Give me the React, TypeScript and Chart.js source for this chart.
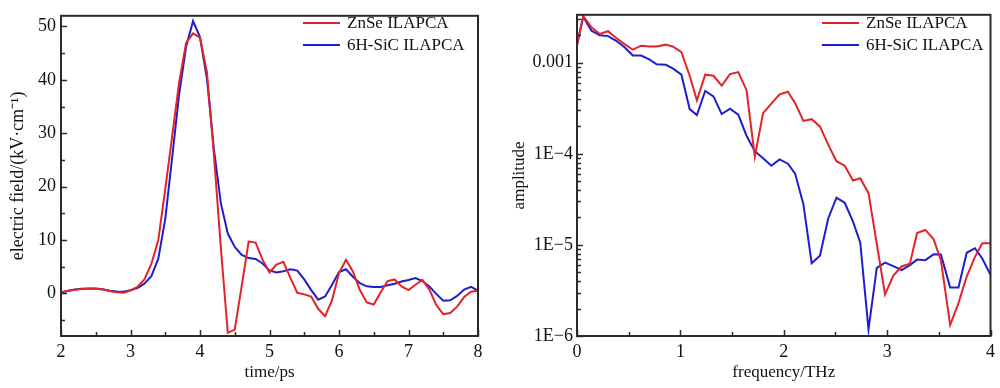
import React, { useEffect, useRef } from "react";
import { Chart, registerables } from "chart.js";

Chart.register(...registerables);

// ---------- Left panel: time-domain field ----------
const timePs = [
  2.0, 2.1, 2.2, 2.3, 2.4, 2.5, 2.6, 2.7, 2.8, 2.9,
  3.0, 3.1, 3.2, 3.3, 3.4, 3.5, 3.6, 3.7, 3.8, 3.9,
  4.0, 4.1, 4.2, 4.3, 4.4, 4.5, 4.6, 4.7, 4.8, 4.9,
  5.0, 5.1, 5.2, 5.3, 5.4, 5.5, 5.6, 5.7, 5.8, 5.9,
  6.0, 6.1, 6.2, 6.3, 6.4, 6.5, 6.6, 6.7, 6.8, 6.9,
  7.0, 7.1, 7.2, 7.3, 7.4, 7.5, 7.6, 7.7, 7.8, 7.9, 8.0,
];
const fieldZnSe = [
  0.2, 0.45, 0.65, 0.8, 0.85, 0.85, 0.7, 0.45, 0.2, 0.1,
  0.5, 1.2, 2.6, 5.5, 10.0, 19.5, 29.5, 39.5, 46.9, 48.7,
  47.9, 41.4, 26.0, 8.5, -7.4, -6.8, 1.4, 9.7, 9.5, 6.3,
  3.9, 5.4, 5.9, 2.9, 0.1, -0.2, -0.6, -2.9, -4.3, -1.3,
  3.8, 6.3, 4.1, 0.6, -1.7, -2.1, 0.2, 2.3, 2.6, 1.3,
  0.6, 1.6, 2.5, 0.7, -2.2, -3.9, -3.7, -2.5, -0.7, 0.3, 0.5,
];
const fieldSiC = [
  0.2, 0.5, 0.7, 0.85, 0.9, 0.9, 0.75, 0.5, 0.35, 0.3,
  0.6, 1.0, 1.8, 3.2, 6.5, 13.9, 25.5, 37.3, 46.2, 51.0,
  48.0, 40.2, 27.0, 16.9, 11.2, 8.7, 7.2, 6.6, 6.45, 5.6,
  4.3, 3.9, 4.15, 4.5, 4.25, 2.6, 0.6, -1.2, -0.6, 1.6,
  4.0, 4.5, 3.1, 1.9, 1.3, 1.2, 1.2, 1.5, 1.8, 2.2,
  2.5, 2.85, 2.3, 1.3, -0.1, -1.4, -1.3, -0.5, 0.7, 1.2, 0.5,
];
const timeTicks = [2, 3, 4, 5, 6, 7, 8];
const timeMinorTicks = [2.5, 3.5, 4.5, 5.5, 6.5, 7.5];
const fieldTicks = [0, 10, 20, 30, 40, 50];
const fieldMinorTicks = [-5, 5, 15, 25, 35, 45];

// ---------- Right panel: spectrum ----------
const freqTHz = [
  0.0, 0.06, 0.14, 0.22, 0.30, 0.38, 0.46, 0.54, 0.62, 0.70,
  0.77, 0.86, 0.93, 1.01, 1.09, 1.16, 1.24, 1.32, 1.40, 1.48,
  1.56, 1.64, 1.72, 1.80, 1.88, 1.96, 2.04, 2.11, 2.19, 2.27,
  2.35, 2.43, 2.51, 2.59, 2.67, 2.74, 2.82, 2.90, 2.98, 3.06,
  3.14, 3.22, 3.29, 3.37, 3.45, 3.52, 3.61, 3.69, 3.77, 3.85,
  3.92, 4.00,
];
const ampZnSe = [
  1.57e-3, 3.25e-3, 2.45e-3, 2.07e-3, 2.22e-3, 1.87e-3, 1.6e-3, 1.39e-3, 1.54e-3, 1.51e-3,
  1.51e-3, 1.58e-3, 1.5e-3, 1.31e-3, 7.2e-4, 3.86e-4, 7.4e-4, 7.2e-4, 5.6e-4, 7.5e-4,
  7.9e-4, 5.0e-4, 9.3e-5, 2.8e-4, 3.55e-4, 4.5e-4, 4.8e-4, 3.6e-4, 2.3e-4, 2.4e-4,
  2.0e-4, 1.26e-4, 8.3e-5, 7.4e-5, 5.1e-5, 5.4e-5, 3.7e-5, null, 2.85e-6, 4.6e-6,
  5.8e-6, 6.2e-6, 1.35e-5, 1.46e-5, 1.15e-5, 6.8e-6, 1.32e-6, 2.3e-6, 4.5e-6, 7.4e-6,
  1.04e-5, 1.04e-5,
];
const ampSiC = [
  1.57e-3, 3.2e-3, 2.25e-3, 2.0e-3, 1.96e-3, 1.74e-3, 1.48e-3, 1.2e-3, 1.2e-3, 1.09e-3,
  9.6e-4, 9.5e-4, 8.6e-4, 7.4e-4, 3.1e-4, 2.66e-4, 4.9e-4, 4.27e-4, 2.73e-4, 3.13e-4,
  2.69e-4, 1.58e-4, 1.07e-4, 8.95e-5, 7.4e-5, 8.7e-5, 7.8e-5, 6.07e-5, 2.8e-5, 6.3e-6,
  7.6e-6, 1.95e-5, 3.3e-5, 2.9e-5, 1.8e-5, 1.06e-5, 1.18e-6, 5.6e-6, 6.4e-6, 5.85e-6,
  5.3e-6, 6.0e-6, 6.9e-6, 6.8e-6, 7.9e-6, 7.85e-6, 3.4e-6, 3.4e-6, 8.2e-6, 9.2e-6,
  7.1e-6, 4.7e-6,
];
const freqTicks = [0, 1, 2, 3, 4];
const freqMinorTicks = [0.5, 1.5, 2.5, 3.5];
const ampTicks = [1e-6, 1e-5, 1e-4, 1e-3];
const ampTickLabels = ["1E\u22126", "1E\u22125", "1E\u22124", "0.001"];
const ampMinorTicks = [
  2e-6, 3e-6, 4e-6, 5e-6, 6e-6, 7e-6, 8e-6, 9e-6,
  2e-5, 3e-5, 4e-5, 5e-5, 6e-5, 7e-5, 8e-5, 9e-5,
  2e-4, 3e-4, 4e-4, 5e-4, 6e-4, 7e-4, 8e-4, 9e-4,
  2e-3, 3e-3,
];

const seriesNames = ["ZnSe ILAPCA", "6H-SiC ILAPCA"];
const seriesColors = ["#e3232a", "#1e1ecc"];

const FONT = "'Liberation Serif', 'Times New Roman', serif";
const INK = "#111";
const FRAME = "#2a2a2a";

function makeDecor(cfg: {
  xMajor: number[]; xMinor: number[]; yMajor: number[]; yMinor: number[];
  legendX: number; legendY: number[];
}) {
  return {
    id: "decor",
    afterDatasetsDraw(chart: any) {
      const { ctx, chartArea: a, scales } = chart;
      const xs = scales.x, ys = scales.y;
      ctx.save();
      ctx.strokeStyle = FRAME;
      ctx.lineWidth = 1.5;
      const tx = (vals: number[], len: number) => {
        vals.forEach((v) => {
          const p = Math.round(xs.getPixelForValue(v)) + 0.5;
          ctx.beginPath(); ctx.moveTo(p, a.bottom); ctx.lineTo(p, a.bottom - len); ctx.stroke();
        });
      };
      const ty = (vals: number[], len: number) => {
        vals.forEach((v) => {
          const p = Math.round(ys.getPixelForValue(v)) + 0.5;
          ctx.beginPath(); ctx.moveTo(a.left, p); ctx.lineTo(a.left + len, p); ctx.stroke();
        });
      };
      tx(cfg.xMajor, 6); tx(cfg.xMinor, 4);
      ty(cfg.yMajor, 6); ty(cfg.yMinor, 4);
      ctx.lineWidth = 2;
      ctx.strokeRect(a.left, a.top, a.right - a.left, a.bottom - a.top);
      // legend
      ctx.font = `17px ${FONT}`;
      ctx.textBaseline = "middle";
      ctx.textAlign = "left";
      chart.data.datasets.forEach((ds: any, i: number) => {
        const y = cfg.legendY[i];
        ctx.strokeStyle = ds.borderColor;
        ctx.lineWidth = 2;
        ctx.beginPath(); ctx.moveTo(cfg.legendX, y); ctx.lineTo(cfg.legendX + 37, y); ctx.stroke();
        ctx.fillStyle = INK;
        ctx.fillText(ds.label, cfg.legendX + 44, y + 1);
      });
      ctx.restore();
    },
  };
}

function baseScale(extra: any) {
  return {
    grid: { display: false, drawTicks: false },
    border: { display: false },
    ...extra,
  };
}

function TimeChart() {
  const ref = useRef<HTMLCanvasElement>(null);
  useEffect(() => {
    const chart = new Chart(ref.current!, {
      type: "line",
      data: {
        datasets: [
          { label: seriesNames[0], data: timePs.map((t, i) => ({ x: t, y: fieldZnSe[i] })), borderColor: seriesColors[0], borderWidth: 2, pointRadius: 0, tension: 0, fill: false },
          { label: seriesNames[1], data: timePs.map((t, i) => ({ x: t, y: fieldSiC[i] })), borderColor: seriesColors[1], borderWidth: 2, pointRadius: 0, tension: 0, fill: false },
        ],
      },
      options: {
        animation: false,
        responsive: false,
        events: [],
        layout: { padding: { left: 0, top: 2, right: 22, bottom: 0 } },
        plugins: { legend: { display: false }, tooltip: { enabled: false } },
        scales: {
          x: baseScale({
            type: "linear", min: 2, max: 8,
            afterBuildTicks: (s: any) => { s.ticks = timeTicks.map((v) => ({ value: v })); },
            afterFit: (s: any) => { s.height = 52; },
            ticks: { font: { family: FONT, size: 18 }, color: INK, padding: 5, maxRotation: 0, autoSkip: false, callback: (v: any) => String(v) },
            title: { display: true, text: "time/ps", font: { family: FONT, size: 17 }, color: INK, padding: { top: 0, bottom: 5 } },
          }),
          y: baseScale({
            type: "linear", min: -8, max: 52,
            afterBuildTicks: (s: any) => { s.ticks = fieldTicks.map((v) => ({ value: v })); },
            afterFit: (s: any) => { s.width = 61; },
            ticks: { font: { family: FONT, size: 18 }, color: INK, padding: 5, autoSkip: false, callback: (v: any) => String(v) },
            title: { display: true, text: "electric field/(kV\u00B7cm\u207B\u00B9)", font: { family: FONT, size: 18 }, color: INK, padding: { top: 7, bottom: 0 } },
          }),
        },
      },
      plugins: [makeDecor({ xMajor: timeTicks, xMinor: timeMinorTicks, yMajor: fieldTicks, yMinor: fieldMinorTicks, legendX: 303, legendY: [23, 45] })],
    } as any);
    return () => chart.destroy();
  }, []);
  return <canvas ref={ref} width={500} height={388} style={{ position: "absolute", left: 0, top: 0, width: 500, height: 388 }} />;
}

function SpectrumChart() {
  const ref = useRef<HTMLCanvasElement>(null);
  useEffect(() => {
    const chart = new Chart(ref.current!, {
      type: "line",
      data: {
        datasets: [
          { label: seriesNames[0], data: freqTHz.map((f, i) => ({ x: f, y: ampZnSe[i] })), borderColor: seriesColors[0], borderWidth: 2, pointRadius: 0, tension: 0, fill: false, spanGaps: true },
          { label: seriesNames[1], data: freqTHz.map((f, i) => ({ x: f, y: ampSiC[i] })), borderColor: seriesColors[1], borderWidth: 2, pointRadius: 0, tension: 0, fill: false, spanGaps: true },
        ],
      },
      options: {
        animation: false,
        responsive: false,
        events: [],
        layout: { padding: { left: 0, top: 2, right: 7, bottom: 0 } },
        plugins: { legend: { display: false }, tooltip: { enabled: false } },
        scales: {
          x: baseScale({
            type: "linear", min: 0, max: 4,
            afterBuildTicks: (s: any) => { s.ticks = freqTicks.map((v) => ({ value: v })); },
            afterFit: (s: any) => { s.height = 52; },
            ticks: { font: { family: FONT, size: 18 }, color: INK, padding: 5, maxRotation: 0, autoSkip: false, callback: (v: any) => String(v) },
            title: { display: true, text: "frequency/THz", font: { family: FONT, size: 17 }, color: INK, padding: { top: 0, bottom: 5 } },
          }),
          y: baseScale({
            type: "logarithmic", min: 1e-6, max: 0.00336,
            afterBuildTicks: (s: any) => { s.ticks = ampTicks.map((v) => ({ value: v })); },
            afterFit: (s: any) => { s.width = 77; },
            ticks: { font: { family: FONT, size: 18 }, color: INK, padding: 4, autoSkip: false, callback: (v: any, i: number) => ampTickLabels[i] },
            title: { display: true, text: "amplitude", font: { family: FONT, size: 17 }, color: INK, padding: { top: 9, bottom: 0 } },
          }),
        },
      },
      plugins: [makeDecor({ xMajor: freqTicks, xMinor: freqMinorTicks, yMajor: ampTicks, yMinor: ampMinorTicks, legendX: 322, legendY: [23, 45] })],
    } as any);
    return () => chart.destroy();
  }, []);
  return <canvas ref={ref} width={500} height={388} style={{ position: "absolute", left: 500, top: 0, width: 500, height: 388 }} />;
}

export default function App() {
  return (
    <div style={{ position: "absolute", left: 0, top: 0, width: 1000, height: 388, background: "#fff", overflow: "hidden" }}>
      <TimeChart />
      <SpectrumChart />
    </div>
  );
}
